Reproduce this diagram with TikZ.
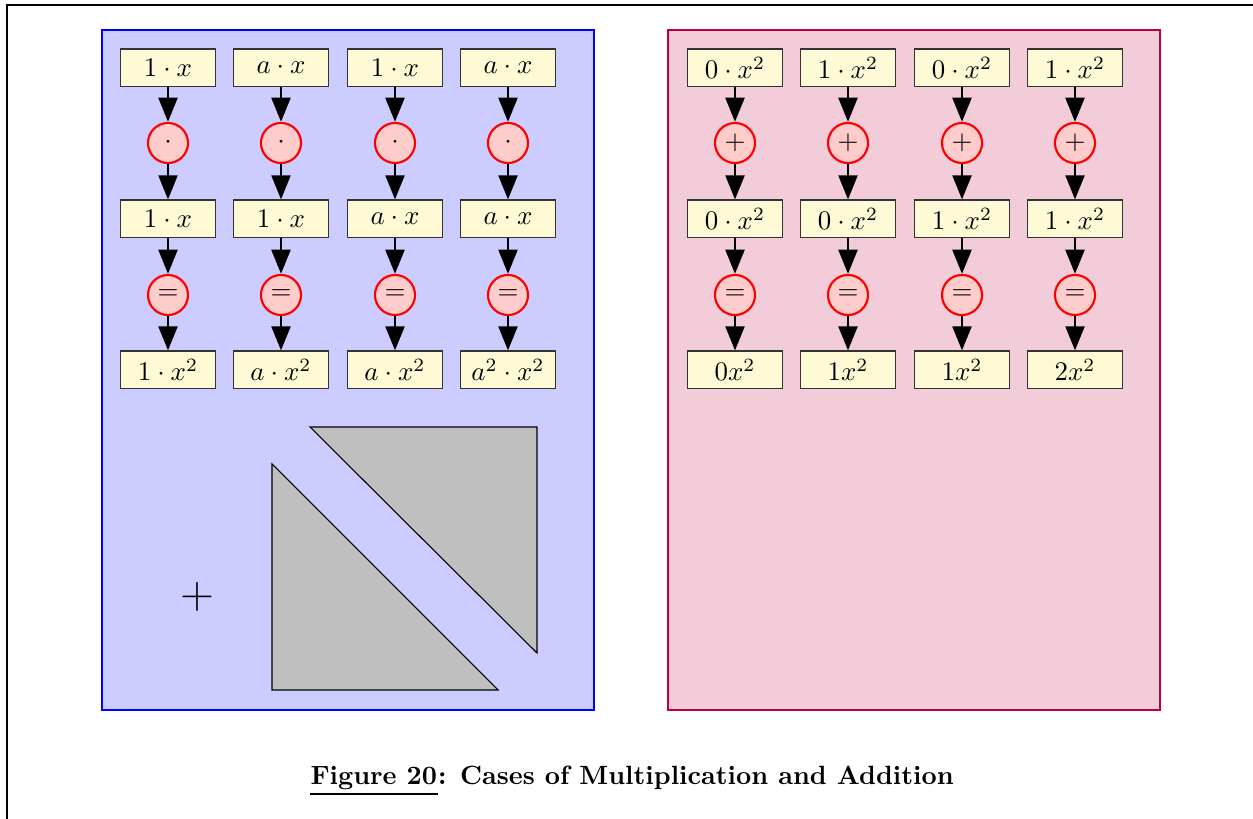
\documentclass[tikz,border=0pt]{standalone}
\usepackage{amsmath}
\usepackage{tikz}
\usetikzlibrary{shapes,arrows.meta,backgrounds}
\definecolor{termfill}{RGB}{255,250,214}
\tikzset{
  termbox/.style={ draw=black!80, fill=termfill, minimum width=35.3pt, minimum height=14.1pt, inner sep=0pt }
}
\tikzset{
  opcirc/.style={ draw=red, thick, circle, fill=red!20, minimum size=14.9pt, inner sep=0pt }
}
\tikzset{
  flow/.style={ line width=1.1pt, -{Triangle[length=9pt,width=7pt]} }
}

\begin{document}
\begin{tikzpicture}[x=0.372pt, y=-0.372pt]
      \useasboundingbox (0,0) rectangle (1253,819);
      \draw[line width=0.8pt] (7,819) -- (7,5) -- (1253,5);

      % multiplication panel
      \filldraw[fill=blue!20, draw=blue] (102,30) rectangle (594,710);
      \node[termbox] (mx1) at (168,68) {$1\cdot x$};
      \node[termbox] (mx2) at (281,68) {$a\cdot x$};
      \node[termbox] (mx3) at (395,68) {$1\cdot x$};
      \node[termbox] (mx4) at (508,68) {$a\cdot x$};
      \node[opcirc] (mop1) at (168,143) {$\cdot$};
      \node[opcirc] (mop2) at (281,143) {$\cdot$};
      \node[opcirc] (mop3) at (395,143) {$\cdot$};
      \node[opcirc] (mop4) at (508,143) {$\cdot$};
      \node[termbox] (mmid1) at (168,219) {$1\cdot x$};
      \node[termbox] (mmid2) at (281,219) {$1\cdot x$};
      \node[termbox] (mmid3) at (395,219) {$a\cdot x$};
      \node[termbox] (mmid4) at (508,219) {$a\cdot x$};
      \node[opcirc] (meq1) at (168,295) {$=$};
      \node[opcirc] (meq2) at (281,295) {$=$};
      \node[opcirc] (meq3) at (395,295) {$=$};
      \node[opcirc] (meq4) at (508,295) {$=$};
      \node[termbox] (mres1) at (168,370) {$1\cdot x^2$};
      \node[termbox] (mres2) at (281,370) {$a\cdot x^2$};
      \node[termbox] (mres3) at (395,370) {$a\cdot x^2$};
      \node[termbox] (mres4) at (508,370) {$a^2\cdot x^2$};
      \draw[flow] (mx1) edge (mop1) (mop1) edge (mmid1) (mmid1) edge (meq1) (meq1) edge (mres1);
      \draw[flow] (mx2) edge (mop2) (mop2) edge (mmid2) (mmid2) edge (meq2) (meq2) edge (mres2);
      \draw[flow] (mx3) edge (mop3) (mop3) edge (mmid3) (mmid3) edge (meq3) (meq3) edge (mres3);
      \draw[flow] (mx4) edge (mop4) (mop4) edge (mmid4) (mmid4) edge (meq4) (meq4) edge (mres4);

      \node (plus) at (197,597) {\LARGE $+$};
      \filldraw[fill=gray!50, draw=black] (272,464) -- (272,690) -- (498,690) -- cycle;
      \filldraw[fill=gray!50, draw=black] (310,427) -- (537,427) -- (537,653) -- cycle;

      % addition panel
      \filldraw[fill=purple!20, draw=purple] (668,30) rectangle (1160,710);
      \node[termbox] (ax1) at (735,68) {$0\cdot x^2$};
      \node[termbox] (ax2) at (848,68) {$1\cdot x^2$};
      \node[termbox] (ax3) at (962,68) {$0\cdot x^2$};
      \node[termbox] (ax4) at (1075,68) {$1\cdot x^2$};
      \node[opcirc] (aop1) at (735,143) {$+$};
      \node[opcirc] (aop2) at (848,143) {$+$};
      \node[opcirc] (aop3) at (962,143) {$+$};
      \node[opcirc] (aop4) at (1075,143) {$+$};
      \node[termbox] (amid1) at (735,219) {$0\cdot x^2$};
      \node[termbox] (amid2) at (848,219) {$0\cdot x^2$};
      \node[termbox] (amid3) at (962,219) {$1\cdot x^2$};
      \node[termbox] (amid4) at (1075,219) {$1\cdot x^2$};
      \node[opcirc] (aeq1) at (735,295) {$=$};
      \node[opcirc] (aeq2) at (848,295) {$=$};
      \node[opcirc] (aeq3) at (962,295) {$=$};
      \node[opcirc] (aeq4) at (1075,295) {$=$};
      \node[termbox] (ares1) at (735,370) {$0x^2$};
      \node[termbox] (ares2) at (848,370) {$1x^2$};
      \node[termbox] (ares3) at (962,370) {$1x^2$};
      \node[termbox] (ares4) at (1075,370) {$2x^2$};
      \draw[flow] (ax1) edge (aop1) (aop1) edge (amid1) (amid1) edge (aeq1) (aeq1) edge (ares1);
      \draw[flow] (ax2) edge (aop2) (aop2) edge (amid2) (amid2) edge (aeq2) (aeq2) edge (ares2);
      \draw[flow] (ax3) edge (aop3) (aop3) edge (amid3) (amid3) edge (aeq3) (aeq3) edge (ares3);
      \draw[flow] (ax4) edge (aop4) (aop4) edge (amid4) (amid4) edge (aeq4) (aeq4) edge (ares4);

      % caption
      \node[anchor=base west, inner sep=0pt, scale=0.983] (capfig) at (310,785) {\bfseries Figure 20};
      \node[anchor=base west, inner sep=0pt, scale=0.983] (captxt) at (capfig.base east) {\bfseries : Cases of Multiplication and Addition};
      \draw[line width=0.9pt] ([yshift=-1.2pt]capfig.south west) -- ([yshift=-1.2pt]capfig.south east);
    \end{tikzpicture}
\end{document}
